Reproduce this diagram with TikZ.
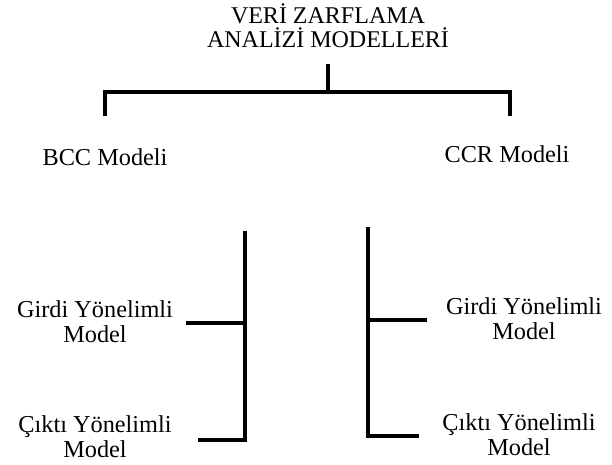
\documentclass[tikz,border=0pt]{standalone}
\usepackage{fontspec}
\setmainfont{Liberation Serif}
\begin{document}
\begin{tikzpicture}[x=1pt,y=-1pt,
  lbl/.style={align=center,anchor=base,inner sep=0pt,font=\fontsize{24.3}{25}\selectfont},
  ttl/.style={lbl,font=\fontsize{24}{24}\selectfont},
  bar/.style={line width=4.8pt,line join=miter,line cap=rect}]
\useasboundingbox (0,0) rectangle (612,465);
% texts (anchor base = baseline of the last line)
\node[ttl] (title) at (328,48) {VERİ ZARFLAMA\\ANALİZİ MODELLERİ};
\node[lbl] (bcc) at (105,165) {BCC Modeli};
\node[lbl] (ccr) at (507,163) {CCR Modeli};
\node[lbl] (lg) at (95,342) {Girdi Yönelimli\\Model};
\node[lbl] (lc) at (95,457) {Çıktı Yönelimli\\Model};
\node[lbl] (rg) at (524,339) {Girdi Yönelimli\\Model};
\node[lbl] (rc) at (519,455) {Çıktı Yönelimli\\Model};
% coordinates
\coordinate (stemtop) at (328,66);
\coordinate (stembot) at (328,92);
\coordinate (tl) at (105,92);
\coordinate (tr) at (510,92);
\coordinate (tlb) at (105,114);
\coordinate (trb) at (510,114);
\coordinate (lvt) at (245,233);
\coordinate (lvb) at (245,440);
\coordinate (lgj) at (245,323);
\coordinate (lge) at (188,323);
\coordinate (lce) at (200,440);
\coordinate (rvt) at (368,229);
\coordinate (rvb) at (368,436);
\coordinate (rgj) at (368,320);
\coordinate (rge) at (425,320);
\coordinate (rce) at (417,436);
% connectors
\draw[bar] (stemtop) -- (stembot);
\draw[bar] (tlb) -- (tl) -- (tr) -- (trb);
\draw[bar] (lvt) -- (lvb) -- (lce);
\draw[bar] (lge) -- (lgj);
\draw[bar] (rvt) -- (rvb) -- (rce);
\draw[bar] (rgj) -- (rge);
\end{tikzpicture}
\end{document}
